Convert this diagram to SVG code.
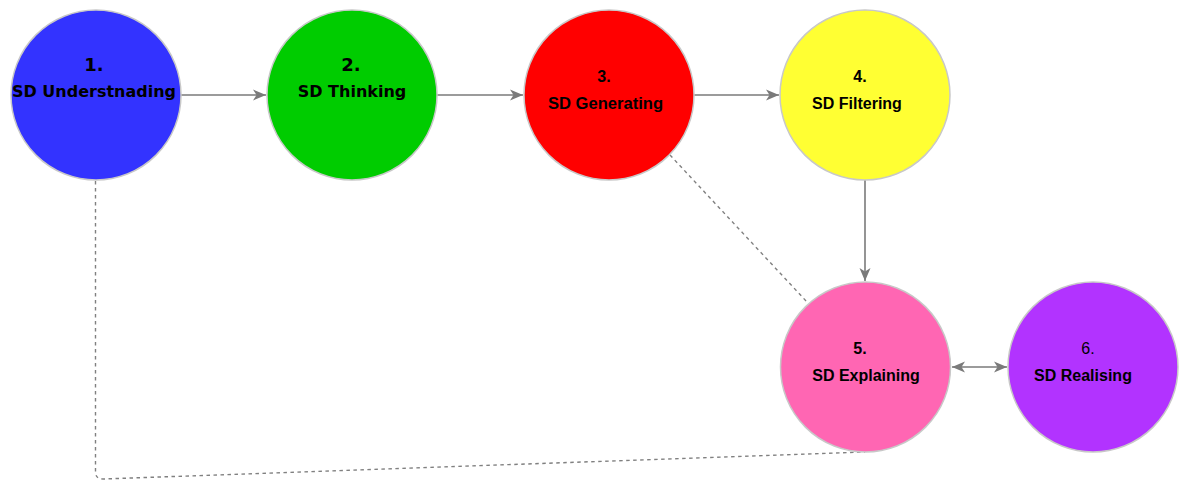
<svg xmlns="http://www.w3.org/2000/svg" width="1186" height="480" viewBox="0 0 1186 480">
<style>
.node{stroke:#c8c8c8;stroke-width:1.5}
.edge{fill:none;stroke:#7a7a7a;stroke-width:1.6}
.dash{fill:none;stroke:#808080;stroke-width:1.4;stroke-dasharray:3.5 3.5}
.v{font-family:"DejaVu Sans",Verdana,sans-serif;font-weight:bold;fill:#000;text-anchor:middle}
.h{font-family:"Liberation Sans",Arial,sans-serif;font-weight:bold;fill:#000;text-anchor:middle;font-size:16px}
</style>
<defs>
<marker id="arr" markerUnits="userSpaceOnUse" markerWidth="14" markerHeight="12" refX="13" refY="6" orient="auto-start-reverse">
<path d="M0,0.5 L13,6 L0,11.5 L3.5,6 Z" fill="#7a7a7a"/>
</marker>
</defs>
<g id="connectors">
<line class="edge" x1="181" y1="95" x2="266" y2="95" marker-end="url(#arr)"/>
<line class="edge" x1="437" y1="95" x2="523" y2="95" marker-end="url(#arr)"/>
<line class="edge" x1="694" y1="95" x2="779" y2="95" marker-end="url(#arr)"/>
<line class="edge" x1="865" y1="180" x2="865" y2="281" marker-end="url(#arr)"/>
<line class="edge" x1="952" y1="367" x2="1007" y2="367" marker-start="url(#arr)" marker-end="url(#arr)"/>
<line class="dash" x1="670" y1="155" x2="807" y2="302"/>
<path class="dash" d="M95.5,181 L95.5,472 Q95.5,479 103,479 L865,452"/>
</g>
<g id="node1">
<circle class="node" cx="96" cy="95" r="85" fill="#3333ff"/>
<text class="v" x="94" y="71" font-size="18">1.</text>
<text class="v" x="94" y="97" font-size="16">SD Understnading</text>
</g>
<g id="node2">
<circle class="node" cx="352" cy="95" r="85" fill="#00cc00"/>
<text class="v" x="351" y="71" font-size="18">2.</text>
<text class="v" x="352" y="97" font-size="16">SD Thinking</text>
</g>
<g id="node3">
<circle class="node" cx="609" cy="95" r="85" fill="#ff0000"/>
<text class="h" x="604" y="82">3.</text>
<text class="h" x="605.5" y="109" textLength="115" lengthAdjust="spacingAndGlyphs">SD Generating</text>
</g>
<g id="node4">
<circle class="node" cx="865" cy="95" r="85" fill="#ffff33"/>
<text class="h" x="860" y="82">4.</text>
<text class="h" x="857" y="109">SD Filtering</text>
</g>
<g id="node5">
<circle class="node" cx="865.5" cy="367" r="85" fill="#ff66b3"/>
<text class="h" x="860" y="354">5.</text>
<text class="h" x="866" y="381">SD Explaining</text>
</g>
<g id="node6">
<circle class="node" cx="1093" cy="367" r="85" fill="#b233ff"/>
<text class="h" x="1088" y="354" font-weight="normal" style="font-weight:normal" fill="#2a0a3a">6.</text>
<text class="h" x="1083" y="381">SD Realising</text>
</g>
</svg>
